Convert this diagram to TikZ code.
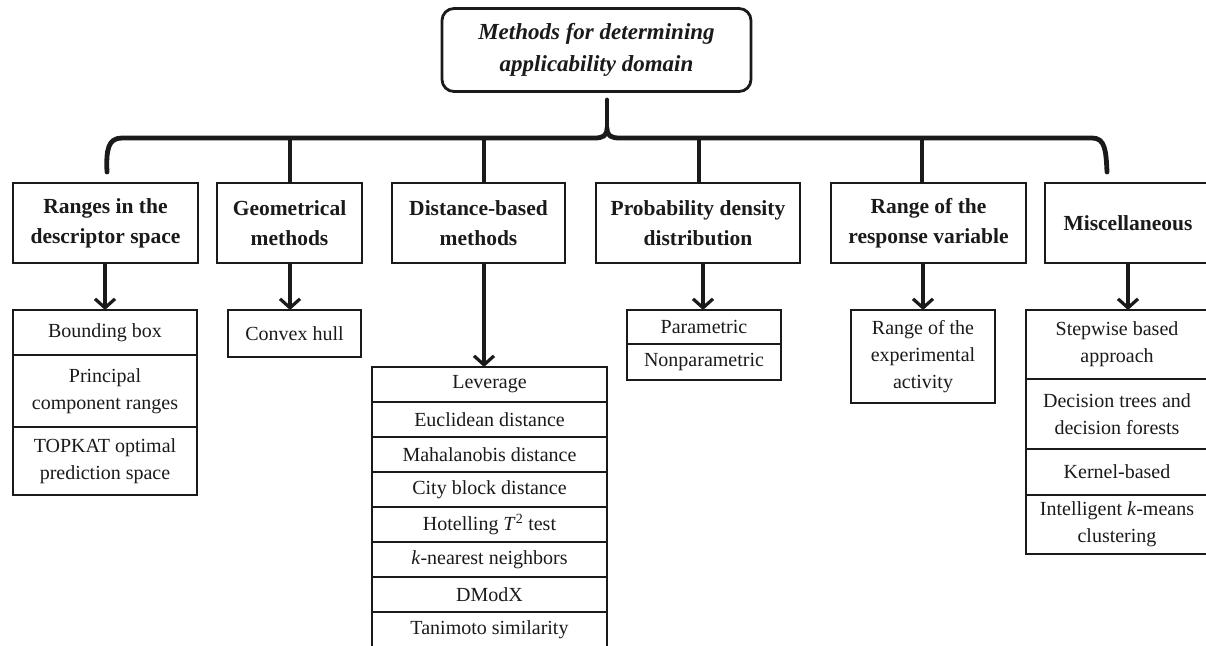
\documentclass[tikz,border=0pt]{standalone}
\usepackage{fontspec}
\setmainfont{Liberation Serif}
\usetikzlibrary{arrows.meta}
\definecolor{ink}{HTML}{1A1A1A}
\begin{document}
\begin{tikzpicture}[x=1pt,y=-1pt,
  every node/.style={inner sep=0pt, outer sep=0pt, text=ink},
  rootbox/.style={draw=ink, line width=2.8pt, rounded corners=12pt, align=center,
    font=\fontsize{23}{32}\selectfont\bfseries\itshape},
  catbox/.style={draw=ink, line width=2.8pt, align=center, minimum height=80pt,
    font=\fontsize{21.5}{30}\selectfont\bfseries},
  rowbox/.style={draw=ink, line width=2.8pt, align=center, anchor=north,
    font=\fontsize{20}{27}\selectfont},
  brace/.style={draw=ink, line width=4.8pt, line cap=round, line join=round},
  link/.style={draw=ink, line width=3.2pt},
  arr/.style={draw=ink, line width=3.2pt, -{Straight Barb[length=9pt,width=20pt]}}
]
\useasboundingbox (0,0) rectangle (1206,645);

% root
\node[rootbox, minimum width=309pt, minimum height=83pt] (root) at (596.5,50)
  {Methods for determining\\applicability domain};

% brace under the root
\coordinate (stemtop) at (607,100);
\coordinate (cusp) at (607,128);
\coordinate (lend) at (107,172);
\coordinate (rend) at (1107,172);
\draw[brace] (stemtop) -- (cusp);
\draw[brace] (lend) .. controls (106,150) and (108,138) .. (122,138) -- (594,138)
  .. controls (603,138) and (607,136) .. (cusp)
  .. controls (607,136) and (611,138) .. (620,138) -- (1092,138)
  .. controls (1105,138) and (1106,150) .. (rend);

% categories
\node[catbox, minimum width=185pt] (c1) at (105.5,223) {Ranges in the\\descriptor space};
\node[catbox, minimum width=145pt] (c2) at (289.5,223) {Geometrical\\methods};
\node[catbox, minimum width=173pt] (c3) at (478.5,223) {Distance-based\\methods};
\node[catbox, minimum width=204pt] (c4) at (698,223) {Probability density\\distribution};
\node[catbox, minimum width=195pt] (c5) at (928.5,223) {Range of the\\response variable};
\node[catbox, minimum width=166pt] (c6) at (1128,223) {Miscellaneous};

% drops from the brace
\coordinate (b2) at (290,138);
\coordinate (b3) at (484,138);
\coordinate (b4) at (699,138);
\coordinate (b5) at (922,138);
\draw[link] (b2) -- (b2 |- c2.north);
\draw[link] (b3) -- (b3 |- c3.north);
\draw[link] (b4) -- (b4 |- c4.north);
\draw[link] (b5) -- (b5 |- c5.north);

% ranges in descriptor space
\node[rowbox, minimum width=184pt, minimum height=45pt] (r11) at (105,310) {Bounding box};
\node[rowbox, minimum width=184pt, minimum height=72pt] (r12) at (r11.south) {Principal\\component ranges};
\node[rowbox, minimum width=184pt, minimum height=68pt] (r13) at (r12.south) {TOPKAT optimal\\prediction space};

% geometrical
\node[rowbox, minimum width=133pt, minimum height=47pt] (r21) at (294.5,310) {Convex hull};

% distance-based
\node[rowbox, minimum width=235pt, minimum height=35pt] (r31) at (489.5,367) {Leverage};
\node[rowbox, minimum width=235pt, minimum height=35pt] (r32) at (r31.south) {Euclidean distance};
\node[rowbox, minimum width=235pt, minimum height=35pt] (r33) at (r32.south) {Mahalanobis distance};
\node[rowbox, minimum width=235pt, minimum height=35pt] (r34) at (r33.south) {City block distance};
\node[rowbox, minimum width=235pt, minimum height=35pt] (r35) at (r34.south) {Hotelling \textit{T}\textsuperscript{2} test};
\node[rowbox, minimum width=235pt, minimum height=35pt] (r36) at (r35.south) {\textit{k}-nearest neighbors};
\node[rowbox, minimum width=235pt, minimum height=35pt] (r37) at (r36.south) {DModX};
\node[rowbox, minimum width=235pt, minimum height=35pt] (r38) at (r37.south) {Tanimoto similarity};

% probability density
\node[rowbox, minimum width=154pt, minimum height=34pt] (r41) at (704,310) {Parametric};
\node[rowbox, minimum width=154pt, minimum height=36pt] (r42) at (r41.south) {Nonparametric};

% response variable
\node[rowbox, minimum width=144pt, minimum height=93pt] (r51) at (923,310) {Range of the\\experimental\\activity};

% miscellaneous
\node[rowbox, minimum width=182pt, minimum height=69pt] (r61) at (1117,310) {Stepwise based\\approach};
\node[rowbox, minimum width=182pt, minimum height=70pt] (r62) at (r61.south) {Decision trees and\\decision forests};
\node[rowbox, minimum width=182pt, minimum height=46pt] (r63) at (r62.south) {Kernel-based};
\node[rowbox, minimum width=182pt, minimum height=59pt] (r64) at (r63.south) {Intelligent \textit{k}-means\\clustering};

% arrows from categories to their lists
\coordinate (a1) at (105,310);
\coordinate (a2) at (290,310);
\coordinate (a3) at (484,367);
\coordinate (a4) at (703,310);
\coordinate (a5) at (923,310);
\coordinate (a6) at (1128,310);
\draw[arr] (c1.south -| a1) -- (a1);
\draw[arr] (c2.south -| a2) -- (a2);
\draw[arr] (c3.south -| a3) -- (a3);
\draw[arr] (c4.south -| a4) -- (a4);
\draw[arr] (c5.south -| a5) -- (a5);
\draw[arr] (c6.south -| a6) -- (a6);
\end{tikzpicture}
\end{document}
